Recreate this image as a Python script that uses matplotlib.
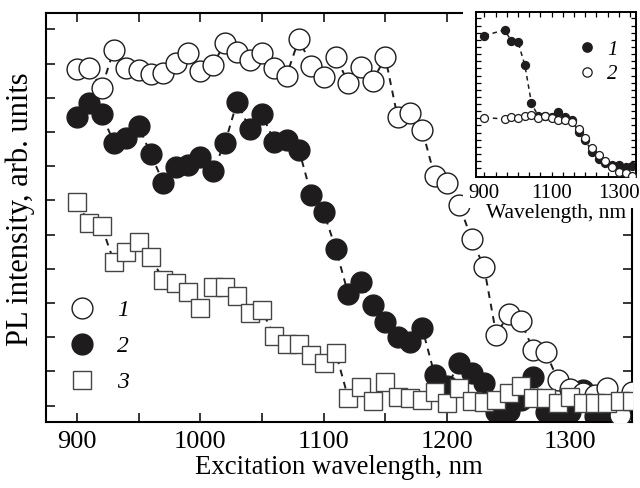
import numpy as np
import matplotlib
matplotlib.use('Agg')
import matplotlib.pyplot as plt
from matplotlib.lines import Line2D
from matplotlib.patches import Rectangle

plt.rcParams['font.family'] = ['Liberation Serif', 'DejaVu Serif']

# main plot: excitation wavelength, nm
wl = np.arange(900, 1351, 10)
# curve 1 (open circles)
pl1 = [9.85, 9.87, 9.28, 10.40, 9.88, 9.81, 9.69, 9.73, 10.01, 10.32,
       9.77, 9.95, 10.60, 10.35, 10.09, 10.30, 9.87, 9.65, 10.72, 9.94,
       9.62, 10.19, 9.44, 9.91, 9.50, 10.19, 8.43, 8.56, 8.06, 6.70,
       6.50, 5.87, 4.86, 4.06, 2.07, 2.68, 2.46, 1.62, 1.56, 0.75,
       0.50, 0.37, 0.31, 0.52, -0.27, 0.41]
# curve 2 (filled circles)
pl2 = [8.45, 8.84, 8.53, 7.69, 7.82, 8.16, 7.35, 6.52, 6.99, 7.04,
       7.28, 6.86, 7.67, 8.89, 8.08, 8.53, 7.72, 7.77, 7.48, 6.16,
       5.67, 4.57, 3.26, 3.60, 2.94, 2.43, 2.02, 1.87, 2.26, 0.90,
       0.56, 1.24, 0.95, 0.66, -0.20, -0.17, 0.15, 0.85, -0.20, -0.20,
       -0.20, 0.46, -0.30, -0.17, -0.17, 0.15]
# curve 3 (squares)
pl3 = [5.94, 5.33, 5.25, 4.21, 4.50, 4.79, 4.33, 3.68, 3.59, 3.31,
       2.86, 3.46, 3.46, 3.20, 2.70, 2.79, 2.03, 1.79, 1.79, 1.48,
       1.25, 1.53, 0.22, 0.55, 0.12, 0.70, 0.26, 0.22, 0.17, 0.41,
       0.07, 0.51, 0.12, 0.10, 0.15, 0.37, 0.56, 0.22, 0.22, 0.07,
       0.26, 0.07, 0.07, 0.07, 0.12, 0.12]

# inset: wavelength, nm
wl_in = [900, 960, 980, 1000, 1020, 1040, 1060, 1080, 1100, 1120, 1140,
         1160, 1180, 1200, 1220, 1240, 1260, 1280, 1300, 1320, 1340]
in1 = [18.6, 19.4, 17.85, 17.66, 14.49, 9.11, 7.3, 7.4, 7.2, 7.85, 7.24,
       6.78, 5.1, 3.9, 2.34, 1.3, 0.8, 0.5, 0.47, 0.23, 0.37]
in2 = [7.10, 6.92, 7.24, 7.01, 7.38, 7.48, 7.01, 7.38, 7.01, 6.78, 6.78,
       6.45, 5.51, 4.21, 2.90, 1.87, 1.07, 0.23, -0.47, -0.70, -1.03]

blk = '#1e1c1c'
fig = plt.figure(figsize=(6.4, 4.88), dpi=100)
ax = fig.add_axes([0.0719, 0.1359, 0.9156, 0.8369])

ms = 15
dash = dict(color=blk, lw=1.4, ls=(0, (3.5, 3)), zorder=1)
ax.plot(wl, pl1, **dash)
ax.plot(wl, pl2, **dash)
ax.plot(wl, pl3, **dash)
ax.plot(wl, pl2, ls='none', marker='o', ms=ms, mfc=blk, mec=blk, mew=1.0, zorder=2)
ax.plot(wl, pl1, ls='none', marker='o', ms=ms, mfc='white', mec=blk, mew=1.0, zorder=3)
ax.plot(wl, pl3, ls='none', marker='s', ms=13.5, mfc='white', mec='#444444', mew=1.0, zorder=4)

ax.set_xlim(875, 1350)
ax.set_ylim(-0.47, 11.47)
ax.set_xticks(np.arange(900, 1351, 100))
ax.set_xticks(np.arange(950, 1351, 100), minor=True)
ax.set_yticks(np.arange(0, 12))
ax.set_yticklabels([])
ax.tick_params(which='both', direction='in', length=6.5, width=1.1,
               top=True, right=True, labelsize=19, pad=7)
for s in ax.spines.values():
    s.set_linewidth(1.5)
ax.set_xlabel('Excitation wavelength, nm', fontsize=19.3, labelpad=1)
ax.set_ylabel('PL intensity, arb. units', fontsize=22)
ax.yaxis.set_label_coords(-0.019, 0.521)

handles = [Line2D([], [], ls='none', marker='o', ms=ms, mfc='white', mec=blk, mew=1.0),
           Line2D([], [], ls='none', marker='o', ms=ms, mfc=blk, mec=blk),
           Line2D([], [], ls='none', marker='s', ms=13.5, mfc='white', mec='#444444', mew=1.0)]
ax.legend(handles, ['1', '2', '3'], loc='center left', bbox_to_anchor=(0.041, 0.185),
          frameon=False, borderpad=0, borderaxespad=0, handlelength=1.0,
          handletextpad=1.0, labelspacing=0.61,
          prop={'style': 'italic', 'size': 17})

# white patch behind the inset
fig.add_artist(Rectangle((463 / 640, 1 - 208 / 488), 1, 1, transform=fig.transFigure,
                         facecolor='white', edgecolor='none', zorder=1))

axi = fig.add_axes([0.7438, 0.6373, 0.2495, 0.338], zorder=2)
axi.plot(wl_in, in1, color=blk, lw=1.1, ls=(0, (3, 2.5)), zorder=1)
axi.plot(wl_in[:2], in2[:2], color=blk, lw=1.1, ls=(0, (3, 2.5)), zorder=1)
axi.plot(wl_in, in1, ls='none', marker='o', ms=5.7, mfc=blk, mec=blk, zorder=2)
axi.plot(wl_in, in2, ls='none', marker='o', ms=5.7, mfc='white', mec=blk, mew=0.9, zorder=3)
axi.set_xlim(875, 1350)
axi.set_ylim(-1.22, 21.9)
axi.set_xticks([900, 1100, 1300])
axi.set_xticks(np.arange(900, 1350, 200 / 6), minor=True)
axi.set_yticks(np.arange(0, 22))
axi.set_yticklabels([])
axi.tick_params(which='both', direction='in', length=3.5, width=0.9,
                top=True, right=True, labelsize=15, pad=5)
for s in axi.spines.values():
    s.set_linewidth(1.4)
axi.set_xlabel('Wavelength, nm', fontsize=15.5, labelpad=1)
hi = [Line2D([], [], ls='none', marker='o', ms=6.7, mfc=blk, mec=blk),
      Line2D([], [], ls='none', marker='o', ms=6.7, mfc='white', mec=blk, mew=0.9)]
axi.legend(hi, ['1', '2'], loc='upper left', bbox_to_anchor=(0.64, 0.83),
           frameon=False, borderpad=0, borderaxespad=0, handlelength=0.8,
           handletextpad=0.6, labelspacing=0.22,
           prop={'style': 'italic', 'size': 15})

fig.savefig('out.png', dpi=100)
